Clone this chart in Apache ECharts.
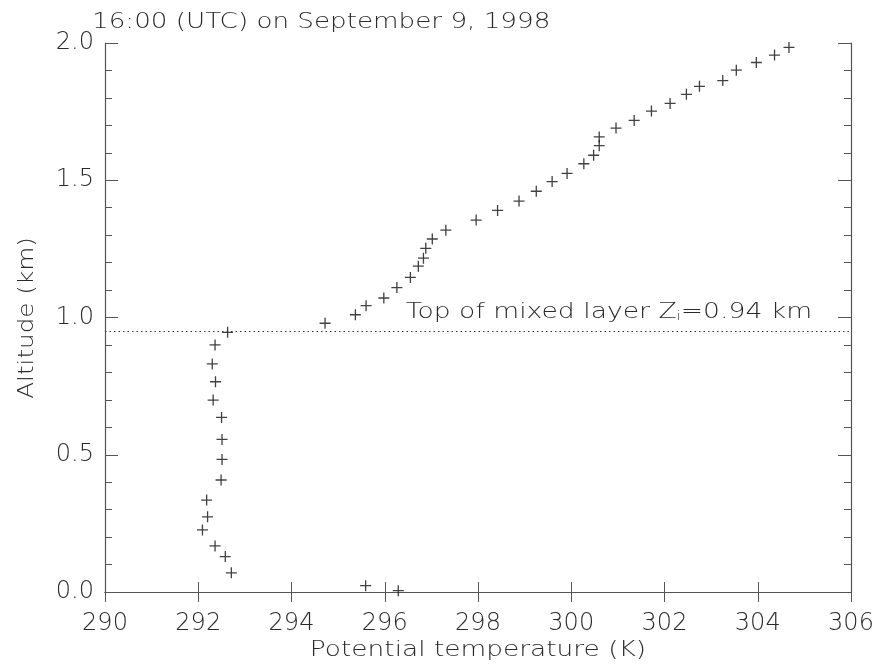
<!DOCTYPE html>
<html>
<head>
<meta charset="utf-8">
<script src="https://cdn.jsdelivr.net/npm/echarts@6/dist/echarts.min.js"></script>
<style>html,body{margin:0;padding:0;background:#fff}#c{width:877px;height:669px}</style>
</head>
<body>
<div id="c"></div>
<script>
// Data
const theta = [292.71,292.58,292.36,292.09,292.20,292.18,292.49,292.51,292.51,292.50,292.32,292.37,292.30,292.36,292.63,
  294.72,295.37,295.60,295.98,296.26,296.55,296.72,296.83,296.88,297.02,297.31,297.96,298.42,298.88,299.25,299.59,299.91,
  300.27,300.48,300.60,300.60,300.96,301.35,301.72,302.12,302.47,302.75,303.25,303.54,303.97,304.36,304.67,
  295.59,296.29];
const altitude = [0.070,0.129,0.168,0.226,0.274,0.335,0.408,0.483,0.556,0.636,0.699,0.766,0.831,0.900,0.946,
  0.979,1.010,1.043,1.071,1.109,1.146,1.187,1.216,1.252,1.286,1.318,1.355,1.390,1.424,1.460,1.495,1.525,
  1.560,1.591,1.626,1.658,1.690,1.718,1.752,1.780,1.813,1.842,1.863,1.901,1.929,1.956,1.984,
  0.023,0.005];
const xTicks = [290,292,294,296,298,300,302,304,306];
const yTicks = [0.0,0.5,1.0,1.5,2.0];
const mixedLayerTop = 0.946;
const titleText = '16:00 (UTC) on September 9, 1998';
const xName = 'Potential temperature (K)';
const yName = 'Altitude (km)';

const FONT = '"DejaVu Sans", sans-serif';
const TXT = '#2a2a2a';
const AX = '#555';
const points = theta.map((t, i) => [t, altitude[i]]);
const plus = 'path://M0,4.4H10V5.6H0Z M4.4,0H5.6V10H4.4Z';

const chart = echarts.init(document.getElementById('c'), null, {renderer: 'canvas'});

const xBase = {
  type: 'value', min: xTicks[0], max: xTicks[xTicks.length-1], interval: 2,
  axisLine: {show: true, lineStyle: {color: AX, width: 1.2}},
  axisTick: {show: true, inside: true, length: 10, lineStyle: {color: AX, width: 1}},
  splitLine: {show: false}
};
const yBase = {
  type: 'value', min: yTicks[0], max: yTicks[yTicks.length-1], interval: 0.5,
  axisLine: {show: true, lineStyle: {color: AX, width: 1.2}},
  axisTick: {show: true, inside: true, length: 13, lineStyle: {color: AX, width: 1}},
  minorTick: {show: true, splitNumber: 5, length: 7, lineStyle: {color: AX, width: 1}},
  splitLine: {show: false}
};

chart.setOption({
  animation: false,
  backgroundColor: '#fff',
  grid: {left: 105, right: 26, top: 43, bottom: 77, containLabel: false},
  xAxis: [
    Object.assign({}, xBase, {position: 'bottom',
      axisLabel: {show: true, margin: 20, color: TXT, fontFamily: FONT, fontWeight: 200, fontSize: 24,
        formatter: v => String(v)}}),
    Object.assign({}, xBase, {position: 'top', axisLabel: {show: false}})
  ],
  yAxis: [
    Object.assign({}, yBase, {position: 'left',
      axisLabel: {show: true, margin: 11, color: TXT, fontFamily: FONT, fontWeight: 200, fontSize: 24,
        formatter: v => v.toFixed(1)}}),
    Object.assign({}, yBase, {position: 'right', axisLabel: {show: false}})
  ],
  series: [{
    type: 'scatter',
    data: points,
    symbol: plus,
    symbolSize: 11,
    itemStyle: {color: '#111'},
    clip: true,
    markLine: {
      silent: true, symbol: 'none',
      lineStyle: {type: [1.5, 3], color: '#333', width: 1},
      label: {show: false},
      data: [{yAxis: mixedLayerTop}]
    }
  }]
});

function addGraphics() {
  const p = chart.convertToPixel({xAxisIndex: 0, yAxisIndex: 0}, [296.45, mixedLayerTop]);
  chart.setOption({
    graphic: [
      {type: 'text', x: 92, y: 22, scaleX: 1.19, style: {text: titleText, font: '200 22px ' + FONT, fill: TXT, verticalAlign: 'middle'}},
      {type: 'text', x: 478, y: 650, scaleX: 1.2, style: {text: xName, font: '200 22px ' + FONT, fill: TXT, align: 'center', verticalAlign: 'middle'}},
      {type: 'text', x: 27, y: 318, rotation: Math.PI/2, scaleX: 1.12, style: {text: yName, font: '200 22px ' + FONT, fill: TXT, align: 'center', verticalAlign: 'middle'}},
      {type: 'text', x: p[0], y: p[1] - 20, scaleX: 1.21, style: {
        text: 'Top of mixed layer Z{s|i}=0.94 km',
        font: '200 22px ' + FONT, fill: TXT, verticalAlign: 'middle',
        rich: {s: {fontSize: 12, fontFamily: FONT, fontWeight: 200, fill: TXT, verticalAlign: 'bottom', padding: [8,0,0,0]}}
      }}
    ]
  });
}
addGraphics();
</script>
</body>
</html>
